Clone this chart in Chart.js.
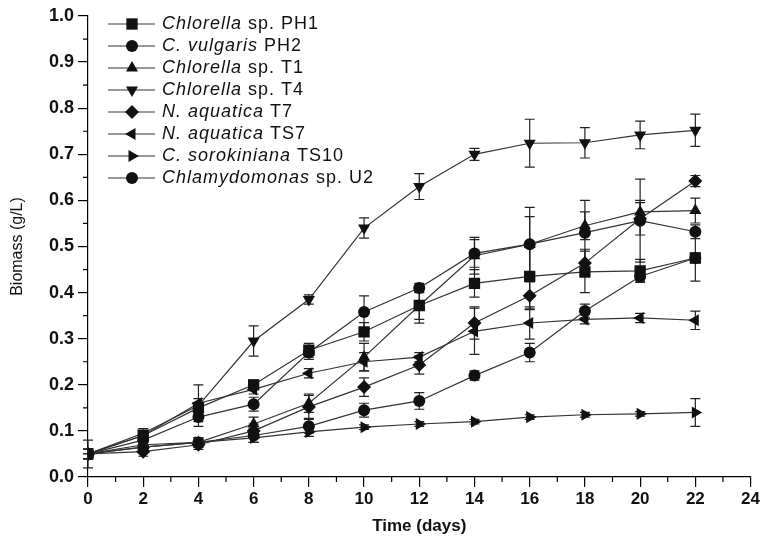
<!DOCTYPE html>
<html>
<head>
<meta charset="utf-8">
<script src="https://cdn.jsdelivr.net/npm/chart.js@4.4.1/dist/chart.umd.min.js"></script>
<style>
  html, body { margin: 0; padding: 0; background: #fff; }
  canvas { display: block; }
</style>
</head>
<body>
<canvas id="chart" width="762" height="543"></canvas>
<script>
// Tiempo de cultivo (días)
var days = [0, 2, 4, 6, 8, 10, 12, 14, 16, 18, 20, 22];

// Biomasa (g/L) por cepa
var ph1 = [0.05, 0.09, 0.15, 0.20, 0.275, 0.315, 0.372, 0.42, 0.435, 0.445, 0.447, 0.475];
var ph2 = [0.05, 0.08, 0.13, 0.158, 0.27, 0.358, 0.41, 0.485, 0.505, 0.53, 0.556, 0.532];
var t1 = [0.05, 0.07, 0.075, 0.115, 0.16, 0.26, 0.372, 0.48, 0.505, 0.545, 0.575, 0.578];
var t4 = [0.05, 0.095, 0.155, 0.295, 0.385, 0.54, 0.63, 0.70, 0.724, 0.725, 0.742, 0.752];
var t7 = [0.05, 0.055, 0.07, 0.10, 0.152, 0.195, 0.243, 0.334, 0.393, 0.464, 0.56, 0.642];
var ts7 = [0.05, 0.09, 0.16, 0.19, 0.225, 0.25, 0.26, 0.316, 0.334, 0.342, 0.345, 0.34];
var ts10 = [0.05, 0.065, 0.075, 0.085, 0.098, 0.108, 0.115, 0.12, 0.13, 0.135, 0.137, 0.14];
var u2 = [0.05, 0.065, 0.075, 0.09, 0.11, 0.145, 0.165, 0.22, 0.27, 0.36, 0.435, 0.475];

// Desviación estándar
var ph1Err = [0.01, 0.01, 0.01, 0.01, 0.015, 0.02, 0.038, 0.03, 0.07, 0.045, 0.025, 0.05];
var ph2Err = [0.01, 0.01, 0.01, 0.015, 0.015, 0.035, 0.01, 0.03, 0.08, 0.07, 0.09, 0.015];
var t1Err = [0.01, 0.01, 0.01, 0.015, 0.02, 0.03, 0.03, 0.04, 0.06, 0.03, 0.025, 0.027];
var t4Err = [0.01, 0.01, 0.045, 0.033, 0.01, 0.022, 0.028, 0.013, 0.052, 0.033, 0.03, 0.035];
var t7Err = [0.01, 0.01, 0.01, 0.015, 0.025, 0.02, 0.02, 0.035, 0.03, 0.03, 0.035, 0.012];
var ts7Err = [0.03, 0.01, 0.01, 0.01, 0.01, 0.02, 0.01, 0.05, 0.035, 0.01, 0.01, 0.02];
var ts10Err = [0.01, 0.005, 0.005, 0.01, 0.01, 0.005, 0.005, 0.005, 0.005, 0.005, 0.005, 0.03];
var u2Err = [0.01, 0.01, 0.01, 0.015, 0.015, 0.015, 0.018, 0.01, 0.02, 0.015, 0.01, 0.01];

// Nombres: parte en cursiva + parte normal
var namesItalic = ['Chlorella', 'C. vulgaris', 'Chlorella', 'Chlorella', 'N. aquatica', 'N. aquatica', 'C. sorokiniana', 'Chlamydomonas'];
var namesPlain = [' sp. PH1', ' PH2', ' sp. T1', ' sp. T4', ' T7', ' TS7', ' TS10', ' sp. U2'];

var xTicks = [0, 2, 4, 6, 8, 10, 12, 14, 16, 18, 20, 22, 24];
var yTicks = [0, 0.1, 0.2, 0.3, 0.4, 0.5, 0.6, 0.7, 0.8, 0.9, 1.0];

var series = [ph1, ph2, t1, t4, t7, ts7, ts10, u2];
var errors = [ph1Err, ph2Err, t1Err, t4Err, t7Err, ts7Err, ts10Err, u2Err];
var styles = [
    { pointStyle: 'rect', rotation: 0, radius: 8 },
    { pointStyle: 'circle', rotation: 0, radius: 6 },
    { pointStyle: 'triangle', rotation: 0, radius: 7 },
    { pointStyle: 'triangle', rotation: 180, radius: 7 },
    { pointStyle: 'rectRot', rotation: 0, radius: 7 },
    { pointStyle: 'triangle', rotation: 270, radius: 7 },
    { pointStyle: 'triangle', rotation: 90, radius: 7 },
    { pointStyle: 'circle', rotation: 0, radius: 6 }
];

var lineColor = '#333';
var markColor = '#111';

var datasets = series.map(function (vals, k) {
    return {
        label: namesItalic[k] + namesPlain[k],
        data: vals.map(function (v, i) { return { x: days[i], y: v }; }),
        borderColor: lineColor,
        borderWidth: 1.2,
        pointStyle: styles[k].pointStyle,
        pointRotation: styles[k].rotation,
        pointRadius: styles[k].radius,
        pointBackgroundColor: markColor,
        pointBorderColor: markColor,
        pointBorderWidth: 0,
        tension: 0,
        errors: errors[k]
    };
});

// Barras de error
var errorBars = {
    id: 'errorBars',
    beforeDatasetsDraw: function (chart) {
        var ctx = chart.ctx;
        var xs = chart.scales.x, ys = chart.scales.y;
        ctx.save();
        ctx.strokeStyle = '#222';
        ctx.lineWidth = 1.2;
        chart.data.datasets.forEach(function (ds) {
            ds.data.forEach(function (p, i) {
                var e = ds.errors[i];
                var px = xs.getPixelForValue(p.x);
                var top = ys.getPixelForValue(p.y + e);
                var bot = ys.getPixelForValue(p.y - e);
                ctx.beginPath();
                ctx.moveTo(px, top); ctx.lineTo(px, bot);
                ctx.moveTo(px - 5, top); ctx.lineTo(px + 5, top);
                ctx.moveTo(px - 5, bot); ctx.lineTo(px + 5, bot);
                ctx.stroke();
            });
        });
        ctx.restore();
    }
};

// Marcas menores en los ejes
var minorTicks = {
    id: 'minorTicks',
    afterDraw: function (chart) {
        var ctx = chart.ctx;
        var xs = chart.scales.x, ys = chart.scales.y;
        var area = chart.chartArea;
        ctx.save();
        ctx.strokeStyle = '#000';
        ctx.lineWidth = 1.2;
        ctx.beginPath();
        for (var i = 0; i < xTicks.length - 1; i++) {
            var mx = xs.getPixelForValue((xTicks[i] + xTicks[i + 1]) / 2);
            ctx.moveTo(mx, area.bottom); ctx.lineTo(mx, area.bottom + 5);
        }
        for (var j = 0; j < yTicks.length - 1; j++) {
            var my = ys.getPixelForValue((yTicks[j] + yTicks[j + 1]) / 2);
            ctx.moveTo(area.left, my); ctx.lineTo(area.left - 5, my);
        }
        ctx.stroke();
        ctx.restore();
    }
};

// Leyenda con nombres en cursiva
var customLegend = {
    id: 'customLegend',
    afterDraw: function (chart) {
        var ctx = chart.ctx;
        var area = chart.chartArea;
        var x0 = area.left + 20, x1 = area.left + 67, mx = area.left + 44;
        ctx.save();
        chart.data.datasets.forEach(function (ds, k) {
            var y = area.top + 8 + k * 22;
            ctx.strokeStyle = lineColor;
            ctx.lineWidth = 1.2;
            ctx.beginPath();
            ctx.moveTo(x0, y); ctx.lineTo(x1, y);
            ctx.stroke();
            ctx.fillStyle = markColor;
            Chart.helpers.drawPoint(ctx, {
                pointStyle: styles[k].pointStyle,
                rotation: styles[k].rotation,
                radius: styles[k].radius,
                borderWidth: 0
            }, mx, y);
            ctx.fillStyle = '#111';
            ctx.textBaseline = 'middle';
            ctx.textAlign = 'left';
            ctx.letterSpacing = '1px';
            ctx.font = 'italic 18px "Liberation Sans", Arial, sans-serif';
            var tx = x1 + 7;
            ctx.fillText(namesItalic[k], tx, y);
            tx += ctx.measureText(namesItalic[k]).width;
            ctx.font = '18px "Liberation Sans", Arial, sans-serif';
            ctx.fillText(namesPlain[k], tx, y);
        });
        ctx.restore();
    }
};

var ctx = document.getElementById('chart').getContext('2d');
new Chart(ctx, {
    type: 'line',
    data: { datasets: datasets },
    options: {
        responsive: false,
        animation: false,
        layout: { padding: { left: 0, top: 16, right: 10, bottom: 0 } },
        plugins: {
            legend: { display: false },
            tooltip: { enabled: false }
        },
        scales: {
            x: {
                type: 'linear',
                min: 0,
                max: 24,
                afterFit: function (s) { s.height = 66; },
                afterBuildTicks: function (s) { s.ticks = xTicks.map(function (v) { return { value: v }; }); },
                grid: { drawOnChartArea: false, tickLength: 10, color: '#000', lineWidth: 1.2 },
                border: { display: true, color: '#000', width: 1.2 },
                ticks: {
                    color: '#111',
                    padding: 2,
                    maxRotation: 0,
                    font: { family: '"Liberation Sans", Arial, sans-serif', size: 17, weight: 'bold' }
                },
                title: {
                    display: true,
                    text: 'Time (days)',
                    color: '#111',
                    padding: { top: 0, bottom: 6 },
                    font: { family: '"Liberation Sans", Arial, sans-serif', size: 17, weight: 'bold' }
                }
            },
            y: {
                min: 0,
                max: 1,
                afterFit: function (s) { s.width = 88; },
                afterBuildTicks: function (s) { s.ticks = yTicks.map(function (v) { return { value: v }; }); },
                grid: { drawOnChartArea: false, tickLength: 10, color: '#000', lineWidth: 1.2 },
                border: { display: true, color: '#000', width: 1.2 },
                ticks: {
                    color: '#111',
                    padding: 4,
                    callback: function (v) { return v.toFixed(1); },
                    font: { family: '"Liberation Sans", Arial, sans-serif', size: 18, weight: 'bold' }
                },
                title: {
                    display: true,
                    text: 'Biomass (g/L)',
                    color: '#111',
                    padding: { top: 8, bottom: 0 },
                    font: { family: '"Liberation Sans", Arial, sans-serif', size: 16 }
                }
            }
        }
    },
    plugins: [errorBars, minorTicks, customLegend]
});
</script>
</body>
</html>
